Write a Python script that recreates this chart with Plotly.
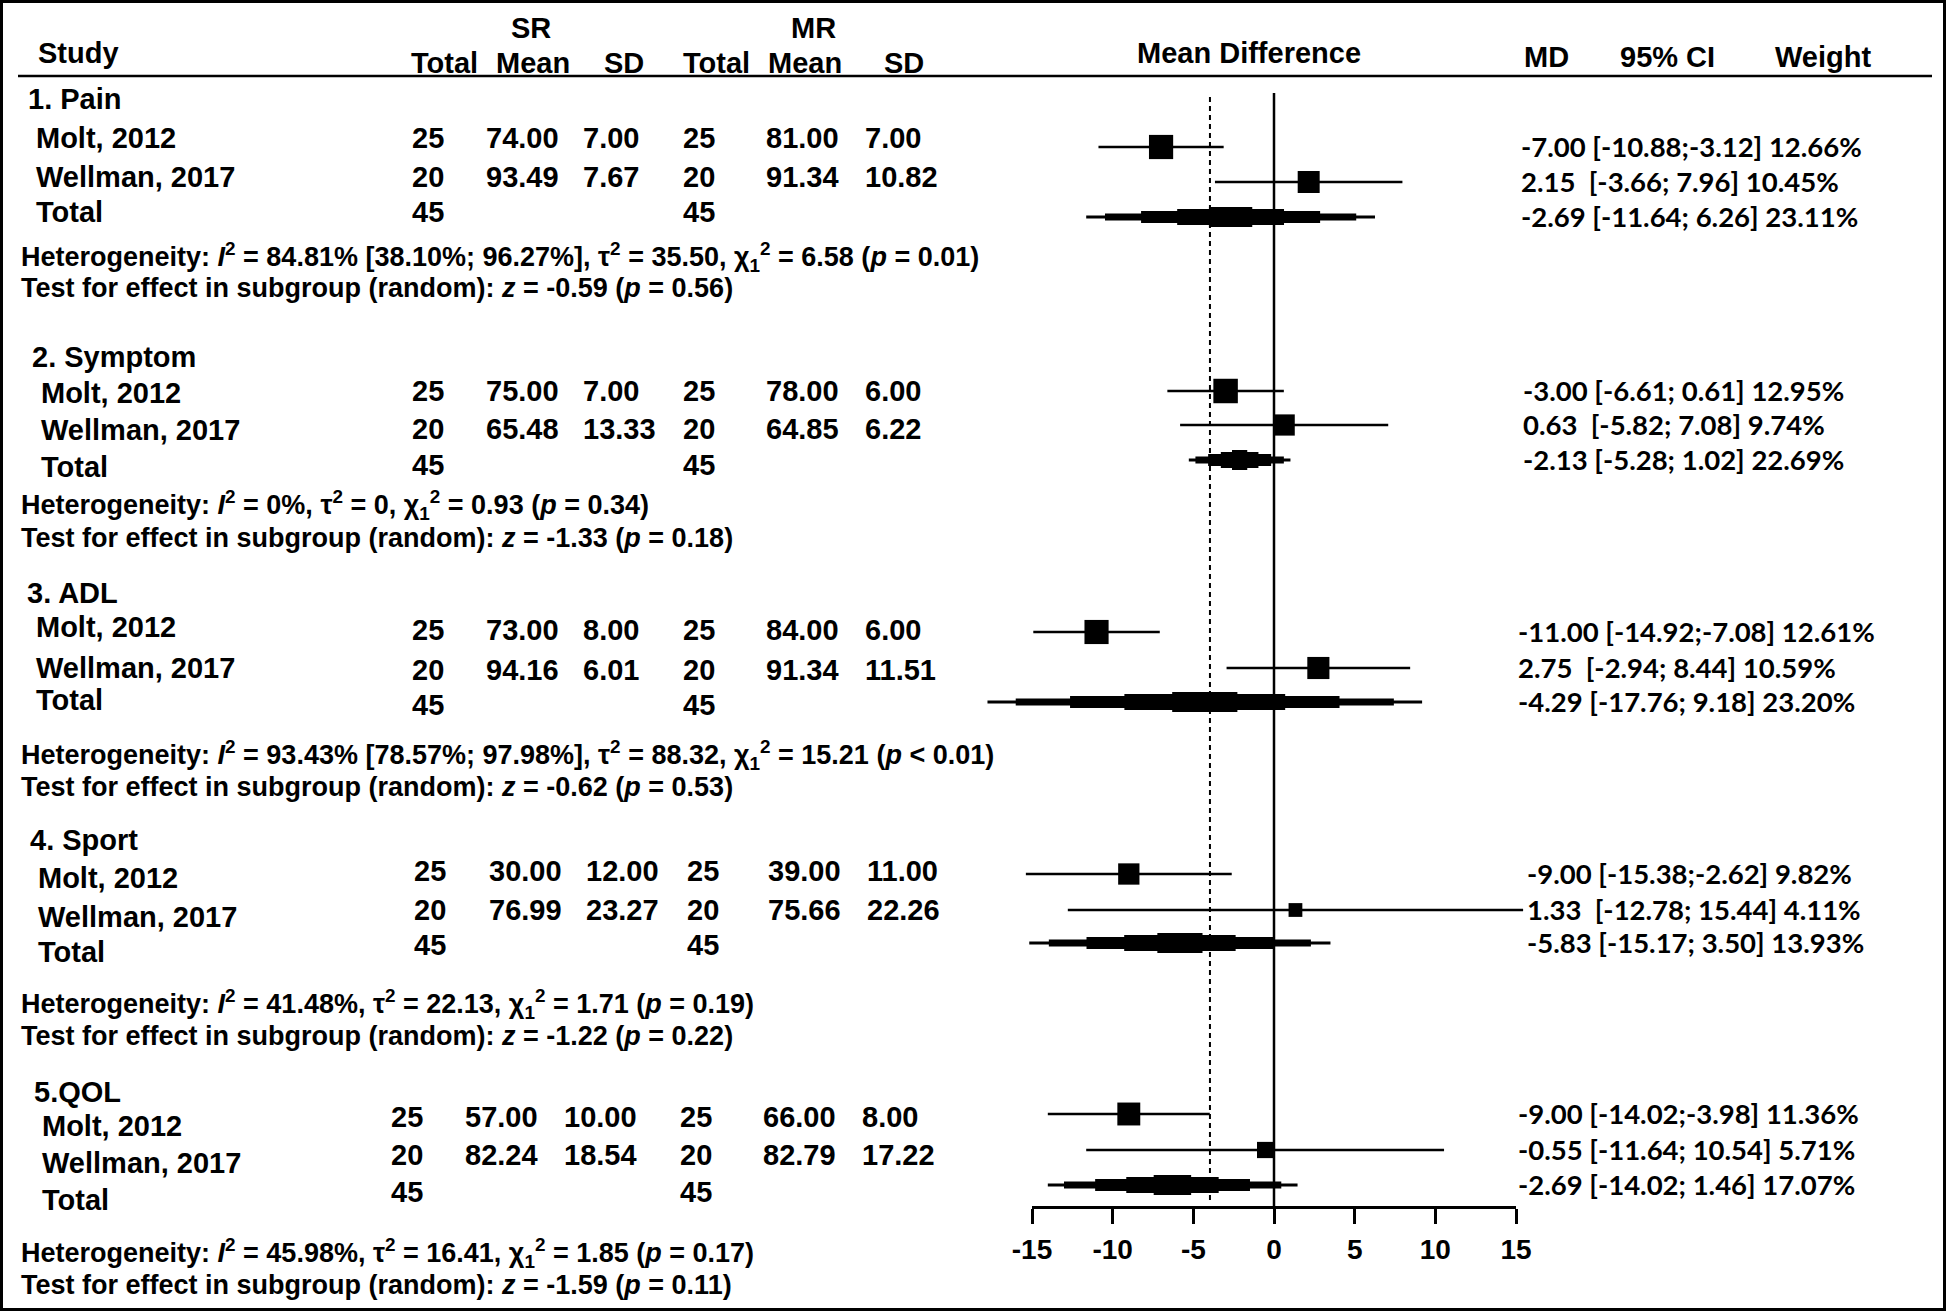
import math
import plotly.graph_objects as go

# ---------------- data ----------------
groups = ["1. Pain", "2. Symptom", "3. ADL", "4. Sport", "5.QOL"]
studies = ["Molt, 2012", "Wellman, 2017"]

sr_total = [[25, 20], [25, 20], [25, 20], [25, 20], [25, 20]]
sr_mean = [[74.00, 93.49], [75.00, 65.48], [73.00, 94.16], [30.00, 76.99], [57.00, 82.24]]
sr_sd = [[7.00, 7.67], [7.00, 13.33], [8.00, 6.01], [12.00, 23.27], [10.00, 18.54]]
mr_total = [[25, 20], [25, 20], [25, 20], [25, 20], [25, 20]]
mr_mean = [[81.00, 91.34], [78.00, 64.85], [84.00, 91.34], [39.00, 75.66], [66.00, 82.79]]
mr_sd = [[7.00, 10.82], [6.00, 6.22], [6.00, 11.51], [11.00, 22.26], [8.00, 17.22]]
sr_sum = [45, 45, 45, 45, 45]
mr_sum = [45, 45, 45, 45, 45]

md = [[-7.00, 2.15], [-3.00, 0.63], [-11.00, 2.75], [-9.00, 1.33], [-9.00, -0.55]]
ci_lo = [[-10.88, -3.66], [-6.61, -5.82], [-14.92, -2.94], [-15.38, -12.78], [-14.02, -11.64]]
ci_hi = [[-3.12, 7.96], [0.61, 7.08], [-7.08, 8.44], [-2.62, 15.44], [-3.98, 10.54]]
weight = [[12.66, 10.45], [12.95, 9.74], [12.61, 10.59], [9.82, 4.11], [11.36, 5.71]]

tot_md = [-2.69, -2.13, -4.29, -5.83, -2.69]
tot_lo = [-11.64, -5.28, -17.76, -15.17, -14.02]
tot_hi = [6.26, 1.02, 9.18, 3.50, 1.46]
tot_weight = [23.11, 22.69, 23.20, 13.93, 17.07]
tot_md_drawn = [-2.69, -2.13, -4.29, -5.83, -6.30]   # centre of drawn summary shape (as in picture)
overall_md = -3.97                                   # dashed reference line

het_i2 = ["84.81% [38.10%; 96.27%]", "0%", "93.43% [78.57%; 97.98%]", "41.48%", "45.98%"]
het_tau2 = ["35.50", "0", "88.32", "22.13", "16.41"]
het_chi2 = ["6.58", "0.93", "15.21", "1.71", "1.85"]
het_p = ["= 0.01", "= 0.34", "< 0.01", "= 0.19", "= 0.17"]
test_z = ["-0.59", "-1.33", "-0.62", "-1.22", "-1.59"]
test_p = ["0.56", "0.18", "0.53", "0.22", "0.11"]

x_ticks = [-15, -10, -5, 0, 5, 10, 15]

# ---------------- layout helpers (pixel positions) ----------------
W, H = 1946, 1312
U = (1516 - 1032) / 30.0      # px per unit of MD
X0 = 1274                     # px of MD = 0


def px(x):
    return x / W


group_label_x = [27, 31, 26, 29, 33]
group_label_y = [99, 357, 593, 840, 1092]
study_label_x = [35, 40, 35, 37, 41]
study_label_y = [[138, 177, 212], [393, 430, 467], [627, 668, 700], [878, 917, 952], [1126, 1163, 1200]]
num_y = [[138, 177, 212], [391, 429, 465], [630, 670, 705], [871, 910, 945], [1117, 1155, 1192]]
col_x = [[411, 485, 582, 682, 765, 864], [411, 485, 582, 682, 765, 864],
         [411, 485, 582, 682, 765, 864], [413, 488, 585, 686, 767, 866],
         [390, 464, 563, 679, 762, 861]]
plot_y = [[147, 182, 217], [391, 425, 460], [632, 668, 702], [874, 910, 943], [1114, 1150, 1185]]
right_x = [1520, 1522, 1517, 1526, 1517]
het_y = [257, 505, 755, 1004, 1253]
test_y = [288, 538, 787, 1036, 1285]

F_ARIAL = "'Liberation Sans', Arial, sans-serif"
F_CAL = "Lato, 'Open Sans', sans-serif"
NB = "\u00a0"
S_HEAD, S_TAB, S_HET, S_RIGHT = 29, 29, 27, 27.5

annotations = []


def add_text(x, y, text, size, family=F_ARIAL, anchor="left"):
    annotations.append(dict(
        x=px(x), y=y, xref="paper", yref="y", text="<b>" + text + "</b>",
        showarrow=False, xanchor=anchor, yanchor="middle", borderpad=0,
        font=dict(family=family, size=size, color="black")))


# header
add_text(37, 53, "Study", S_HEAD)
add_text(531, 28, "SR", S_HEAD, anchor="center")
add_text(813, 28, "MR", S_HEAD, anchor="center")
for cx, t in zip([444, 533, 624, 716, 805, 904], ["Total", "Mean", "SD", "Total", "Mean", "SD"]):
    add_text(cx, 63, t, S_HEAD, anchor="center")
add_text(1249, 53, "Mean Difference", S_HEAD, anchor="center")
add_text(1546, 57, "MD", S_HEAD, anchor="center")
add_text(1667, 57, "95% CI", S_HEAD, anchor="center")
add_text(1823, 57, "Weight", S_HEAD, anchor="center")


def fmt_row(m, l, h, w):
    s = f"{m:.2f}" + ("  " if m >= 0 else " ")
    s += f"[{l:.2f};" + (" " if h >= 0 else "") + f"{h:.2f}] "
    s += f"{w:.2f}%"
    return s.replace(" ", NB)


shapes = []
traces = []

for g in range(len(groups)):
    add_text(group_label_x[g], group_label_y[g], groups[g], S_TAB)
    for i, name in enumerate(studies + ["Total"]):
        add_text(study_label_x[g], study_label_y[g][i], name, S_TAB)
    cx = col_x[g]
    for i in range(2):
        vals = [f"{sr_total[g][i]}", f"{sr_mean[g][i]:.2f}", f"{sr_sd[g][i]:.2f}",
                f"{mr_total[g][i]}", f"{mr_mean[g][i]:.2f}", f"{mr_sd[g][i]:.2f}"]
        for x, v in zip(cx, vals):
            add_text(x, num_y[g][i], v, S_TAB)
        add_text(right_x[g], plot_y[g][i] - 1,
                 fmt_row(md[g][i], ci_lo[g][i], ci_hi[g][i], weight[g][i]), S_RIGHT, family=F_CAL)
    add_text(cx[0], num_y[g][2], f"{sr_sum[g]}", S_TAB)
    add_text(cx[3], num_y[g][2], f"{mr_sum[g]}", S_TAB)
    add_text(right_x[g], plot_y[g][2] - 1,
             fmt_row(tot_md[g], tot_lo[g], tot_hi[g], tot_weight[g]), S_RIGHT, family=F_CAL)

    het = (f"Heterogeneity: <i>I</i><sup>2</sup> = {het_i2[g]}, \u03c4<sup>2</sup> = {het_tau2[g]}, "
           f"\u03c7<sub>1</sub><sup>2</sup> = {het_chi2[g]} (<i>p</i> {het_p[g]})")
    add_text(20, het_y[g], het, S_HET)
    add_text(20, test_y[g], f"Test for effect in subgroup (random): <i>z</i> = {test_z[g]} (<i>p</i> = {test_p[g]})", S_HET)

    # study squares with CI whiskers
    traces.append(go.Scatter(
        x=md[g], y=plot_y[g][:2], mode="markers", xaxis="x", yaxis="y",
        marker=dict(symbol="square", color="#000000", opacity=1,
                    size=[6.8 * math.sqrt(w) for w in weight[g]],
                    line=dict(width=0, color="#000000")),
        error_x=dict(type="data", symmetric=False,
                     array=[h - m for h, m in zip(ci_hi[g], md[g])],
                     arrayminus=[m - l for m, l in zip(md[g], ci_lo[g])],
                     width=0, thickness=2.5, color="#000000"),
        showlegend=False, hoverinfo="skip", cliponaxis=False))

    # stepped summary shape
    c = tot_md_drawn[g]
    L = c - tot_lo[g]
    R = tot_hi[g] - c
    yc = plot_y[g][2]
    for f, t in zip([1.0, 0.87, 0.62, 0.37, 0.15], [3, 7, 12, 16, 20]):
        shapes.append(dict(type="rect", xref="x", yref="y", x0=c - f * L, x1=c + f * R,
                           y0=yc - t / 2, y1=yc + t / 2, fillcolor="#000000",
                           line=dict(width=0), layer="above"))

# reference lines
shapes.append(dict(type="line", xref="x", yref="y", x0=0, x1=0, y0=93, y1=1207,
                   line=dict(color="black", width=2.5)))
shapes.append(dict(type="line", xref="x", yref="y", x0=overall_md, x1=overall_md, y0=97, y1=1202,
                   line=dict(color="black", width=2, dash="5px,4px")))
# header rule
shapes.append(dict(type="line", xref="paper", yref="y", x0=px(18), x1=px(1932), y0=76, y1=76,
                   line=dict(color="black", width=2.5)))
# outer frame
shapes.append(dict(type="rect", xref="paper", yref="y", x0=px(1.5), x1=px(1944.5), y0=1.5, y1=1309.5,
                   line=dict(color="black", width=3), fillcolor="rgba(0,0,0,0)"))

# dummy trace to show the scale axis
traces.append(go.Scatter(x=[0], y=[-500], xaxis="x2", yaxis="y", mode="markers",
                         marker=dict(opacity=0), showlegend=False, hoverinfo="skip"))

fig = go.Figure(data=traces)
fig.update_layout(
    template="none",
    width=W, height=H, autosize=False,
    margin=dict(l=0, r=0, t=0, b=0, pad=0, autoexpand=False),
    paper_bgcolor="white", plot_bgcolor="rgba(0,0,0,0)",
    xaxis=dict(domain=[px(X0 - 20 * U), px(X0 + 17 * U)], range=[-20, 17], visible=False,
               anchor="y", fixedrange=True),
    xaxis2=dict(domain=[px(1032), px(1516)], range=[-15, 15], anchor="free",
                position=(H - 1207) / H, showline=True, linecolor="black", linewidth=3,
                ticks="outside", ticklen=15, tickwidth=3, tickcolor="black",
                tickvals=x_ticks, ticktext=[str(v) for v in x_ticks],
                tickfont=dict(family=F_ARIAL, size=28, color="black", weight="bold"),
                showgrid=False, zeroline=False, ticklabelstandoff=1, fixedrange=True),
    yaxis=dict(domain=[0, 1], range=[H, 0], visible=False, fixedrange=True),
    shapes=shapes, annotations=annotations, showlegend=False,
)
fig.write_html("out.html", config={"displayModeBar": False},
               post_script="document.body.style.margin='0px';")
